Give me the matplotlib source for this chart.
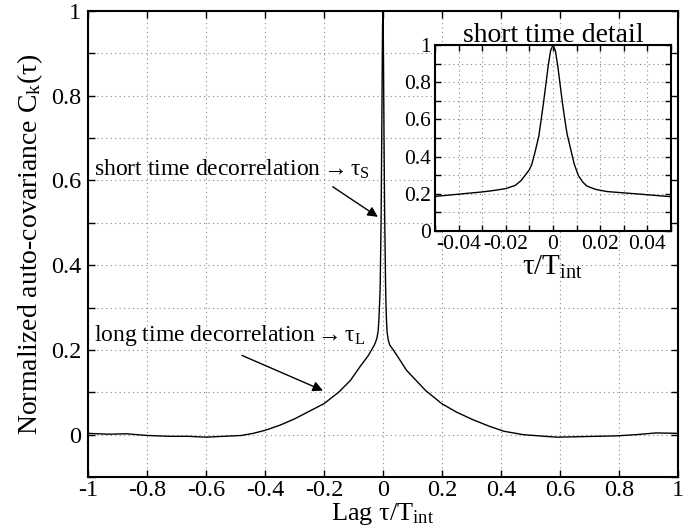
import numpy as np
import matplotlib
matplotlib.use("Agg")
import matplotlib.pyplot as plt

plt.rcParams['font.family'] = ['Liberation Serif', 'DejaVu Serif']
plt.rcParams['mathtext.fontset'] = 'custom'
plt.rcParams['mathtext.rm'] = 'Liberation Serif'
plt.rcParams['mathtext.it'] = 'Liberation Serif:italic'
plt.rcParams['mathtext.fallback'] = 'stix'

# ---- data ----
lag = [-1.0, -0.93, -0.87, -0.8, -0.72, -0.66, -0.6, -0.54, -0.48, -0.44, -0.4,
       -0.35, -0.3, -0.25, -0.2, -0.15, -0.11, -0.078,
       -0.05, -0.04, -0.03, -0.025, -0.02, -0.016, -0.0136, -0.012, -0.01,
       -0.009, -0.0075, -0.006, -0.005, -0.004, -0.003, -0.002, -0.001, 0.0,
       0.001, 0.002, 0.003, 0.004, 0.005, 0.006, 0.0075, 0.009, 0.0107,
       0.0125, 0.0143, 0.018, 0.0229, 0.03, 0.037, 0.0486,
       0.08, 0.145, 0.2, 0.25, 0.306, 0.36, 0.41, 0.475, 0.53, 0.59, 0.66,
       0.72, 0.79, 0.86, 0.927, 1.0]
cov = [0.003, 0.001, 0.002, -0.002, -0.004, -0.004, -0.006, -0.004, -0.002, 0.003, 0.01,
       0.022, 0.037, 0.055, 0.073, 0.1, 0.128, 0.16,
       0.186, 0.198, 0.21, 0.218, 0.228, 0.245, 0.27, 0.296, 0.33,
       0.357, 0.43, 0.51, 0.6, 0.69, 0.79, 0.89, 0.97, 1.0,
       0.97, 0.89, 0.79, 0.69, 0.6, 0.52, 0.44, 0.36, 0.3,
       0.265, 0.242, 0.224, 0.212, 0.205, 0.198, 0.186,
       0.152, 0.104, 0.073, 0.053, 0.035, 0.02, 0.008, 0.0, -0.003, -0.006, -0.005,
       -0.004, -0.003, 0.0, 0.004, 0.003]

main_xticks = [-1, -0.8, -0.6, -0.4, -0.2, 0, 0.2, 0.4, 0.6, 0.8, 1]
main_xlabels = ['-1', '-0.8', '-0.6', '-0.4', '-0.2', '0', '0.2', '0.4', '0.6', '0.8', '1']
main_yticks = [-0.1, 0, 0.1, 0.2, 0.3, 0.4, 0.5, 0.6, 0.7, 0.8, 0.9, 1.0]
main_ylabels = ['', '0', '', '0.2', '', '0.4', '', '0.6', '', '0.8', '', '1']

ins_xticks = [-0.05, -0.04, -0.03, -0.02, -0.01, 0, 0.01, 0.02, 0.03, 0.04, 0.05]
ins_xlabels = ['', '-0.04', '', '-0.02', '', '0', '', '0.02', '', '0.04', '']
ins_yticks = [0, 0.1, 0.2, 0.3, 0.4, 0.5, 0.6, 0.7, 0.8, 0.9, 1.0]
ins_ylabels = ['0', '', '0.2', '', '0.4', '', '0.6', '', '0.8', '', '1']

fig = plt.figure(figsize=(6.93, 5.32), dpi=100)

grid_kw = dict(color='#888888', linestyle=(0, (1, 3)), linewidth=0.8)

ax = fig.add_axes([0.127, 0.1034, 0.851, 0.876])
ax.plot(lag, cov, color='black', linewidth=1.0)
ax.set_xlim(-1, 1)
ax.set_ylim(-0.1, 1.0)
ax.set_xticks(main_xticks)
ax.set_xticklabels(main_xlabels)
ax.set_yticks(main_yticks)
ax.set_yticklabels(main_ylabels)
ax.grid(True, **grid_kw)
ax.tick_params(direction='in', top=True, right=True, length=5, width=1.0,
               labelsize=17.5, pad=5)
ax.tick_params(axis='x', pad=2)
for s in ax.spines.values():
    s.set_linewidth(1.5)
ax.set_xlabel('Lag τ/T$_{\\mathrm{int}}$', fontsize=19, labelpad=0)
ax.set_ylabel('Normalized auto-covariance C$_{\\mathrm{k}}$(τ)', fontsize=20, labelpad=4)

ax.annotate('', xy=(-0.017, 0.514), xytext=(-0.17, 0.585),
            arrowprops=dict(arrowstyle='-|>', color='black', lw=1.0,
                            mutation_scale=15, shrinkA=0, shrinkB=0))
ax.text(-0.98, 0.625, 'short time decorrelation$\\rightarrow$τ$_{\\mathrm{S}}$',
        fontsize=17, va='center', ha='left')
ax.annotate('', xy=(-0.203, 0.104), xytext=(-0.478, 0.187),
            arrowprops=dict(arrowstyle='-|>', color='black', lw=1.0,
                            mutation_scale=15, shrinkA=0, shrinkB=0))
ax.text(-0.98, 0.235, 'long time decorrelation$\\rightarrow$τ$_{\\mathrm{L}}$',
        fontsize=17, va='center', ha='left')

# inset with short time detail
axi = fig.add_axes([0.6277, 0.5658, 0.3405, 0.3496])
axi.plot(lag, cov, color='black', linewidth=1.0)
axi.set_xlim(-0.05, 0.05)
axi.set_ylim(0, 1.0)
axi.set_xticks(ins_xticks)
axi.set_xticklabels(ins_xlabels)
axi.set_yticks(ins_yticks)
axi.set_yticklabels(ins_ylabels)
axi.grid(True, **grid_kw)
axi.tick_params(direction='in', top=True, right=True, length=4, width=1.0,
                labelsize=15.5, pad=3)
for s in axi.spines.values():
    s.set_linewidth(1.5)
axi.set_title('short time detail', fontsize=20, pad=2)
axi.set_xlabel('τ/T$_{\\mathrm{int}}$', fontsize=21, labelpad=0)

fig.savefig('out.png', dpi=100)
